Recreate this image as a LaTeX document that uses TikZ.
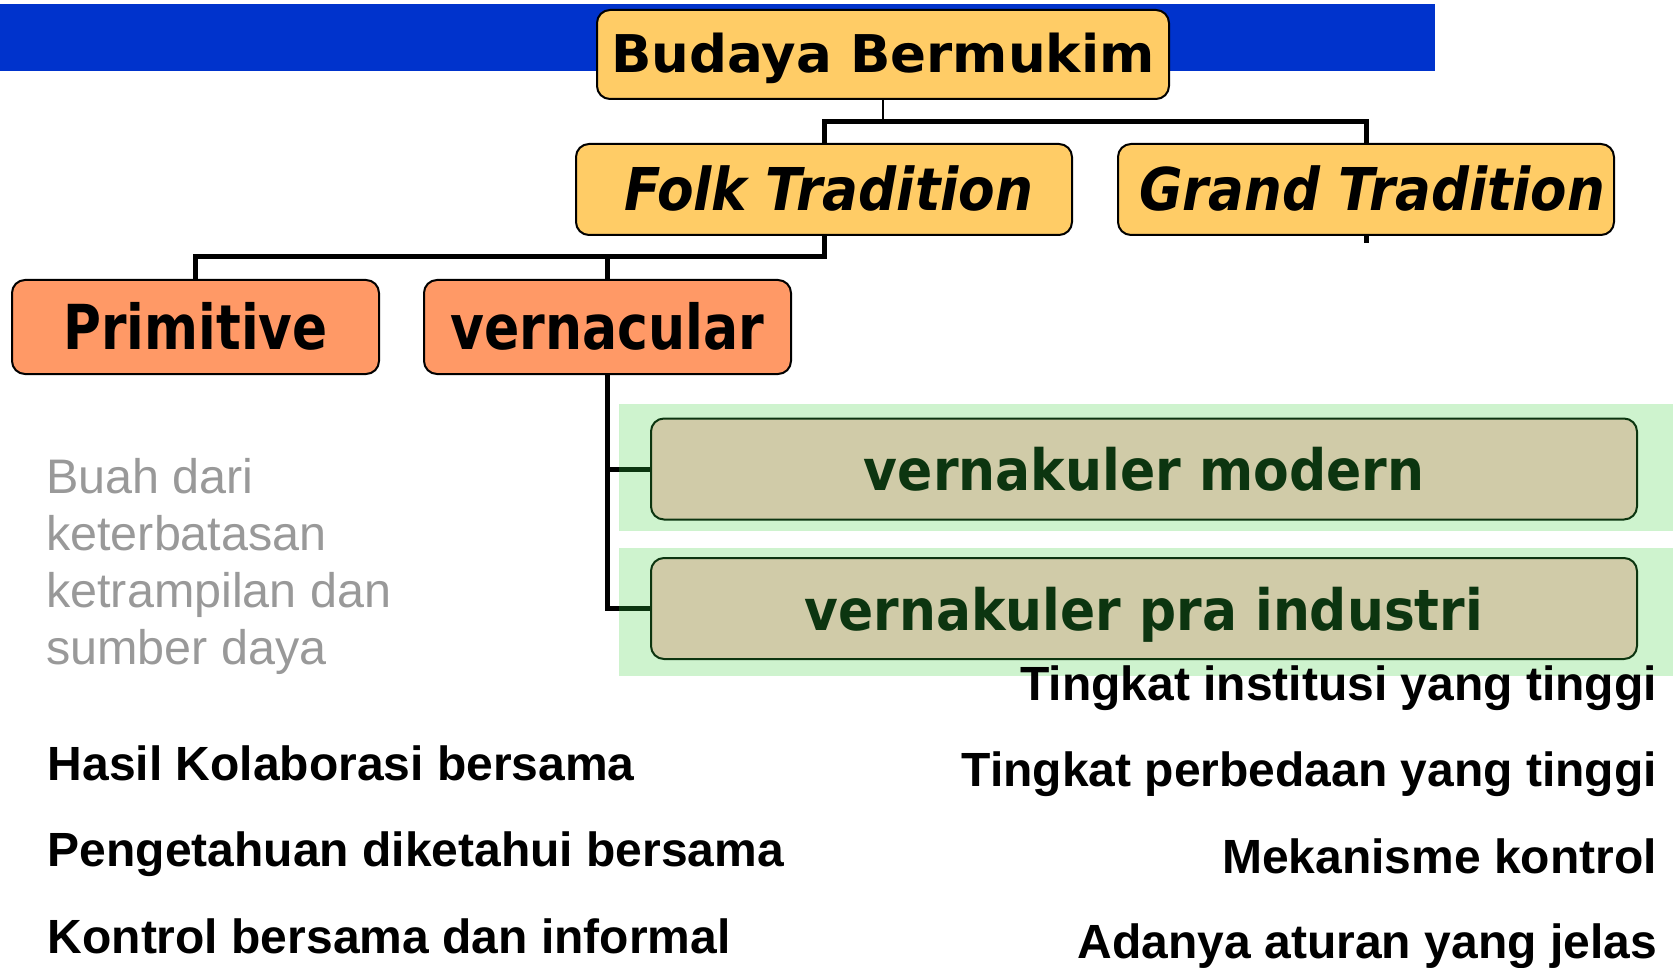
\documentclass[tikz,border=0pt]{standalone}
\usepackage{fontspec}
\usepackage{graphicx}
\setmainfont{Liberation Sans}
\newfontfamily\boxfont{DejaVu Sans}
\definecolor{barblue}{HTML}{0033CC}
\definecolor{gold}{HTML}{FFCC66}
\definecolor{salmon}{HTML}{FF9966}
\definecolor{tanbox}{HTML}{D0CBA8}
\definecolor{mint}{HTML}{CEF3CE}
\definecolor{dkgreen}{HTML}{0C3510}
\definecolor{greytext}{HTML}{999999}
\begin{document}
\begin{tikzpicture}[x=1pt,y=-1pt,
  box/.style={rounded corners=13pt, line width=2pt, draw=black, inner sep=0pt, text depth=0pt, font=\boxfont\bfseries},
  goldbox/.style={box, fill=gold, minimum width=496pt, minimum height=91pt, text height=43pt},
  salmonbox/.style={box, fill=salmon, minimum width=367pt, minimum height=94pt, text height=45pt},
  tanboxst/.style={box, fill=tanbox, draw=dkgreen, text=dkgreen, minimum width=986pt, minimum height=101pt, text height=43pt},
  mintbg/.style={fill=mint, draw=none, inner sep=0pt, anchor=north west, minimum width=1054pt, minimum height=127pt},
  link/.style={line width=5pt, line join=miter, draw=black},
  stub/.style={line width=2.5pt, draw=black},
  greyline/.style={anchor=base west, inner sep=0pt, text=greytext, font=\fontsize{48.5}{57}\selectfont},
  leftitem/.style={anchor=base west, inner sep=0pt, font=\fontsize{48}{48}\selectfont\bfseries},
  rightitem/.style={anchor=base east, inner sep=0pt, font=\fontsize{48}{48}\selectfont\bfseries}]
\useasboundingbox (0,0) rectangle (1673,968);
% blue bar
\fill[barblue] (0,4) rectangle (1435,71);
% mint backgrounds
\node[mintbg] (mintA) at (619,404) {};
\node[mintbg, minimum height=128pt] (mintB) at (619,548) {};
% boxes
\node[box, fill=gold, minimum width=572pt, minimum height=89pt, text height=37pt] (budaya) at (883,54.5)
  {\fontsize{52}{52}\selectfont\scalebox{1.02}[1]{Budaya Bermukim}};
\node[goldbox] (folk) at (824,189.5) {\hspace*{10pt}\fontsize{59}{59}\selectfont\itshape\scalebox{0.903}[1]{Folk Tradition}};
\node[goldbox] (grand) at (1366,189.5) {\hspace*{12pt}\fontsize{59}{59}\selectfont\itshape\scalebox{0.899}[1]{Grand Tradition}};
\node[salmonbox] (prim) at (195.5,327) {\fontsize{62}{62}\selectfont\scalebox{0.835}[1]{Primitive}};
\node[salmonbox] (vern) at (607.5,327) {\fontsize{62}{62}\selectfont\scalebox{0.84}[1]{vernacular}};
\node[tanboxst] (vm) at (1144,469) {\fontsize{57}{57}\selectfont\scalebox{0.912}[1]{vernakuler modern}};
\node[tanboxst] (vpi) at (1144,608.5) {\fontsize{57}{57}\selectfont\scalebox{0.91}[1]{vernakuler pra industri}};
% connectors
\coordinate (j1) at (883,122);
\coordinate (j2) at (824,257);
\coordinate (gstub) at (1366,243);
\draw[stub] (budaya.south) -- (j1);
\draw[link] (folk.north) -- (folk.north |- j1) -- (grand.north |- j1) -- (grand.north);
\draw[link] (grand.south) -- (gstub);
\draw[link] (prim.north) -- (prim.north |- j2) -- (j2) -- (folk.south);
\draw[link] (vern.north |- j2) -- (vern.north);
\draw[link] (vern.south) |- (vpi.west);
\draw[link] (vern.south |- vm.west) -- (vm.west);
\draw[link, draw=dkgreen] (vm.west -| mintA.west) -- (vm.west);
\draw[link, draw=dkgreen] (vpi.west -| mintB.west) -- (vpi.west);
% grey text
\node[greyline] (g1) at (46,493) {Buah dari};
\node[greyline] (g2) at (46,550) {keterbatasan};
\node[greyline] (g3) at (46,607) {ketrampilan dan};
\node[greyline] (g4) at (46,664) {sumber daya};
% left items
\node[leftitem] (l1) at (47.5,780) {Hasil Kolaborasi bersama};
\node[leftitem] (l2) at (47.5,866) {Pengetahuan diketahui bersama};
\node[leftitem] (l3) at (47.5,953) {Kontrol bersama dan informal};
% right items
\node[rightitem] (r1) at (1657,700) {Tingkat institusi yang tinggi};
\node[rightitem] (r2) at (1657,786) {Tingkat perbedaan yang tinggi};
\node[rightitem] (r3) at (1657,873) {Mekanisme kontrol};
\node[rightitem] (r4) at (1657,958) {Adanya aturan yang jelas};
\end{tikzpicture}
\end{document}
